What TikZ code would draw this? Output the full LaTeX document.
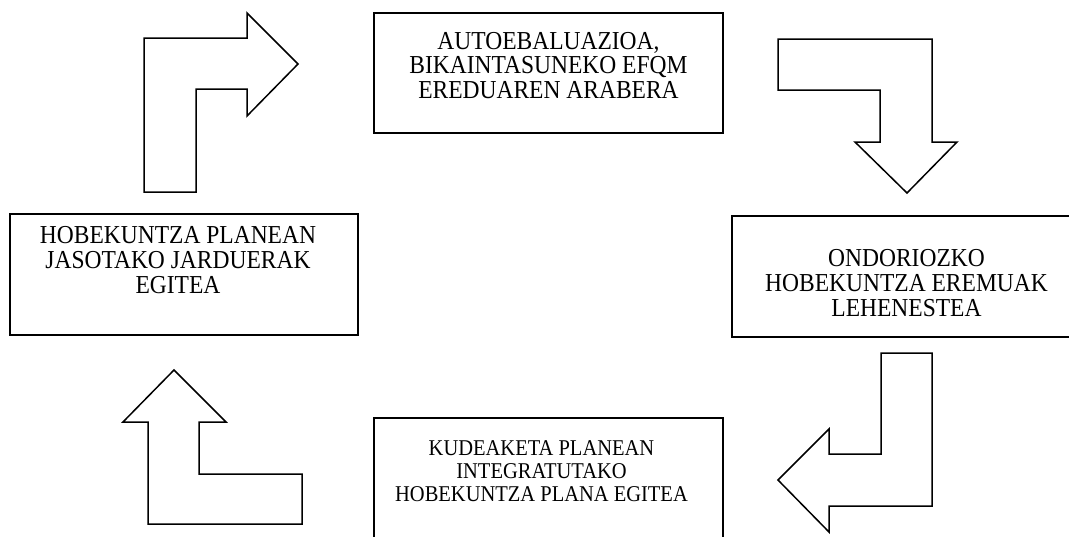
\documentclass[tikz,border=0pt]{standalone}
\usepackage{graphicx}
\usepackage{fontspec}
\setmainfont{Liberation Serif}
\newcommand\tallstack[1]{\scalebox{1}[1.1]{\begin{tabular}{@{}c@{}}#1\end{tabular}}}
\begin{document}
\begin{tikzpicture}[x=1pt,y=-1pt,
  boxline/.style={draw=black,line width=1.5pt,line join=miter},
  blockarrow/.style={draw=black,line width=1.5pt,line join=miter,fill=white},
  label/.style={align=center,inner sep=0pt,font=\fontsize{23.5}{22.7}\selectfont},
  smalllabel/.style={align=center,inner sep=0pt,font=\fontsize{20.5}{21.2}\selectfont}]
\useasboundingbox (0,0) rectangle (1069,536);
\clip (0,0) rectangle (1069,536);
% boxes
\draw[boxline] (374,13) rectangle (723,133);
\draw[boxline] (732,216) rectangle (1080,337);
\draw[boxline] (10,214) rectangle (358,335);
\draw[boxline] (374,418) rectangle (723,550);
% texts
\node[label] (t1) at (548.5,69) {\tallstack{AUTOEBALUAZIOA,\\BIKAINTASUNEKO EFQM\\EREDUAREN ARABERA}};
\node[label] (t2) at (906.5,286.7) {\tallstack{ONDORIOZKO\\HOBEKUNTZA EREMUAK\\LEHENESTEA}};
\node[smalllabel] (t3) at (541.5,474) {\tallstack{KUDEAKETA PLANEAN\\INTEGRATUTAKO\\HOBEKUNTZA PLANA EGITEA}};
\node[label] (t4) at (178,263.3) {\tallstack{HOBEKUNTZA PLANEAN\\JASOTAKO JARDUERAK\\EGITEA}};
% block arrows
\draw[blockarrow] (144,192) -- (144,38) -- (247,38) -- (247,13) -- (298,64) -- (247,116) -- (247,89) -- (196,89) -- (196,192) -- cycle;
\draw[blockarrow] (778,39) -- (932,39) -- (932,142) -- (957,142) -- (907,193) -- (855,142) -- (880,142) -- (880,90) -- (778,90) -- cycle;
\draw[blockarrow] (881,353) -- (932,353) -- (932,506) -- (829,506) -- (829,532) -- (778,480) -- (829,429) -- (829,454) -- (881,454) -- cycle;
\draw[blockarrow] (148,524) -- (148,422) -- (123,422) -- (174,370) -- (226,422) -- (199,422) -- (199,474) -- (302,474) -- (302,524) -- cycle;
\end{tikzpicture}
\end{document}
